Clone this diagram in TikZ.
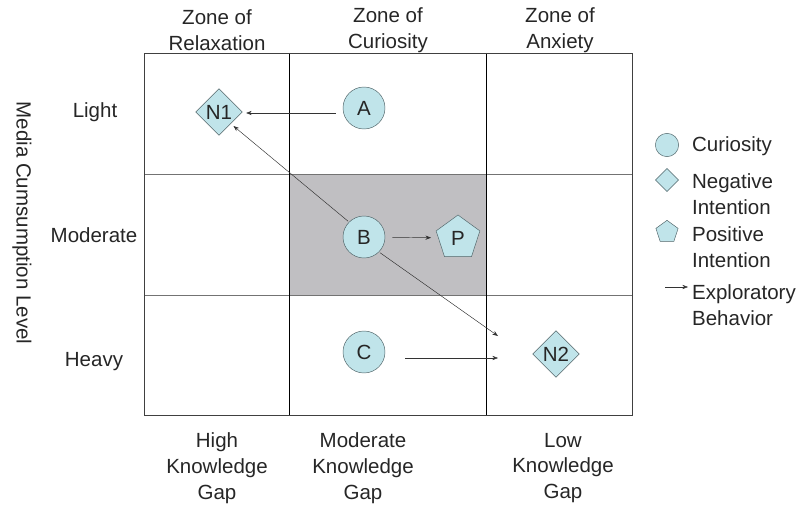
\documentclass[tikz,border=0pt]{standalone}
\usepackage{fontspec}
\setmainfont{Liberation Sans}
\usetikzlibrary{arrows.meta, positioning, shapes.geometric}

\definecolor{cellblue}{RGB}{192,228,234}
\definecolor{edgegray}{RGB}{80,100,104}
\definecolor{cellgray}{RGB}{192,191,194}

\begin{document}
\begin{tikzpicture}[
                x=0.03cm, y=-0.03cm,
                >=Stealth,
                every node/.style={font=\fontsize{17.5}{22}\selectfont, text=black!85},
                curio/.style={circle, draw=edgegray, fill=cellblue, minimum size=1.26cm, inner sep=0pt},
                negint/.style={diamond, draw=edgegray, fill=cellblue, minimum size=1.4cm, inner sep=0pt},
                posint/.style={regular polygon, regular polygon sides=5, draw=edgegray, fill=cellblue, minimum size=1.38cm, inner sep=0pt},
                lab/.style={align=center},
                arr/.style={->, black!80, thin}
            ]
            \useasboundingbox (0,0) rectangle (803,506);
            % grid
            \fill[cellgray] (289,174) rectangle (486,295);
            \draw[black!55] (144,174) -- (632,174);
            \draw[black!55] (144,295) -- (632,295);
            \draw[black] (289,53) -- (289,415);
            \draw[black] (486,53) -- (486,415);
            \draw[black!75, thick] (144,53) rectangle (632,415);

            % headers
            \node[lab] (zrel) at (217,30) {Zone of\\Relaxation};
            \node[lab] (zcur) at (388,30) {Zone of\\Curiosity};
            \node[lab] (zanx) at (560,30) {Zone of\\Anxiety};
            \node (light) at (95,112) {Light};
            \node (moder) at (94,235) {Moderate};
            \node (heavy) at (94,362) {Heavy};
            \node[rotate=-90] (mcl) at (22,223) {Media Cumsumption Level};
            \node[lab] (hkg) at (217,468) {High\\Knowledge\\Gap};
            \node[lab] (mkg) at (363,468) {Moderate\\Knowledge\\Gap};
            \node[lab] (lkg) at (563,468) {Low\\Knowledge\\Gap};

            % states
            \node[curio] (A) at (364,108) {A};
            \node[curio] (B) at (364,237) {B};
            \node[curio] (C) at (364,352) {C};
            \node[negint] (N1) at (219,112) {N1};
            \node[negint] (N2) at (556,354) {N2};
            \node[posint] (P) at (458,238) {P};
            \coordinate (N2a) at (498,336);
            \coordinate (N2b) at (498,358);

            \draw[arr, shorten <=6pt, shorten >=3pt] (A.west |- 0,113) -- (N1.east |- 0,113);
            \draw[arr, shorten <=1pt, shorten >=3pt] (B.north west) -- (N1.south east);
            \draw[arr, shorten <=6pt, shorten >=6pt] (B) -- (P);
            \draw[arr, shorten <=1pt] (B.south east) -- (N2a);
            \draw[arr] (405,358) coordinate (Cout) -- (N2b);

            % legend
            \node[curio, minimum size=0.7cm] (lc) at (667,145) {};
            \node[anchor=west] (lct) at (688,146) {Curiosity};
            \node[negint, minimum size=0.7cm] (ln) at (667,180) {};
            \node[anchor=west, lab, align=left] (lnt) at (688,194) {Negative\\Intention};
            \node[posint, minimum size=0.7cm] (lp) at (667,232) {};
            \node[anchor=west, lab, align=left] (lpt) at (688,247) {Positive\\Intention};
            \coordinate (la) at (665,287);
            \node[anchor=west, lab, align=left] (lat) at (688,305) {Exploratory\\Behavior};
            \draw[arr] (la) -- (lat.west |- la);
        \end{tikzpicture}
\end{document}
